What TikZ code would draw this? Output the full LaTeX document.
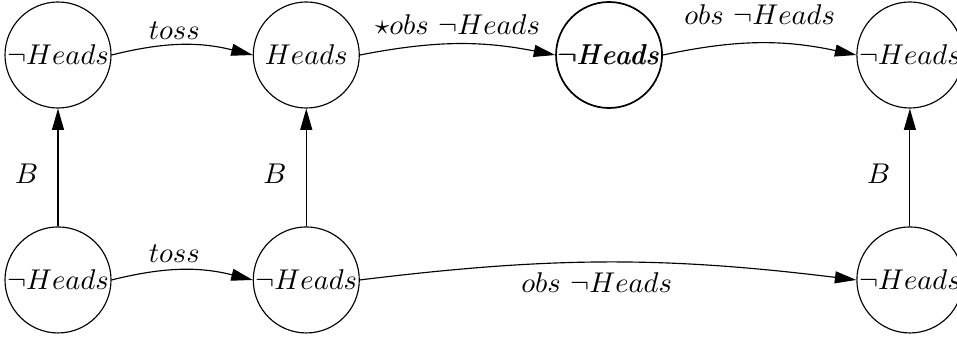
\documentclass[tikz,border=0pt]{standalone}
\usetikzlibrary{arrows.meta}

\newcommand{\thickerlabel}[1]{\rlap{#1}\kern0.3pt#1}

\tikzset{
  world/.style={draw, circle, minimum size=1.305cm, inner sep=0pt},
  actual/.style={world, line width=0.6pt},
  trans/.style={-{Triangle[length=7.5pt,width=4.2pt]}},
}

\begin{document}
\begin{tikzpicture}
    \useasboundingbox (0,0) rectangle (11.78,4.185);
    % upper row
    \node[world]  (u1) at (0.714,3.508) {$\neg Heads$};
    \node[world]  (u2) at (3.77,3.508)  {$Heads$};
    \node[actual] (u3) at (7.497,3.508) {\thickerlabel{$\neg Heads$}};
    \node[world]  (u4) at (11.20,3.508) {$\neg Heads$};
    % lower row
    \node[world] (l1) at (0.714,0.739) {$\neg Heads$};
    \node[world] (l2) at (3.77,0.739)  {$\neg Heads$};
    \node[world] (l4) at (11.20,0.739) {$\neg Heads$};
    % events
    \draw[trans] (u1.east) to[bend left=14] node[pos=0.44,above=-1.6pt] {$toss$} (u2.west);
    \draw[trans] (u2.east) to[bend left=11] node[above] {$\star obs\ \neg Heads$} (u3.west);
    \draw[trans] (u3.east) to[bend left=12] node[above=3pt] {$obs\ \neg Heads$} (u4.west);
    \draw[trans] (l1.east) to[bend left=14] node[pos=0.44,above=-1pt] {$toss$} (l2.west);
    \draw[trans] (l2.east) to[bend left=7] node[pos=0.475,below] {$obs\ \neg Heads$} (l4.west);
    % beliefs
    \draw[trans] (l1) -- node[pos=0.45,left=3.4pt] {$B$} (u1);
    \draw[trans] (l2) -- node[pos=0.45,left=3.4pt] {$B$} (u2);
    \draw[trans] (l4) -- node[pos=0.45,left=3.4pt] {$B$} (u4);
\end{tikzpicture}
\end{document}
